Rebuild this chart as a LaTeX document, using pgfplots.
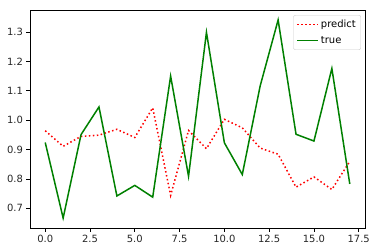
\documentclass[border=0pt]{standalone}
\usepackage{pgfplots}
\pgfplotsset{compat=1.18}
\usepackage{fontspec}
\setmainfont{DejaVu Sans}
\definecolor{mplgreen}{RGB}{0,128,0}
\definecolor{mplred}{RGB}{255,0,0}
\begin{document}
\begin{tikzpicture}[x=1bp,y=1bp]
\begin{axis}[
  scale only axis,
  width=335bp, height=218bp,
  xmin=-0.85, xmax=17.85,
  ymin=0.633, ymax=1.375,
  xtick={0,2.5,...,17.5},
  ytick={0.7,0.8,...,1.3},
  xticklabel style={/pgf/number format/.cd,fixed,fixed zerofill,precision=1},
  yticklabel style={/pgf/number format/.cd,fixed,fixed zerofill,precision=1},
  /pgf/number format/assume math mode=true,
  tick align=outside,
  tick pos=left,
  major tick length=3.5bp,
  every tick/.style={black, line width=0.8bp},
  axis line style={line width=0.8bp},
  ticklabel style={font=\fontsize{10}{12}\selectfont, text=black!85},
  legend style={at={(0.988,0.977)}, anchor=north east, draw=black!20, rounded corners=2bp,
    font=\fontsize{10}{12}\selectfont, row sep=3bp, inner xsep=3bp, inner ysep=3bp},
  legend cell align=left,
  legend image code/.code={\draw[#1] (0bp,0bp) -- (21bp,0bp);},
]
\addplot[mplred, dash pattern=on 1.5bp off 2.5bp, line width=1.5bp] coordinates {
(0,0.964) (1,0.911) (2,0.945) (3,0.949) (4,0.969) (5,0.941) (6,1.042) (7,0.744)
(8,0.965) (9,0.903) (10,1.003) (11,0.974) (12,0.905) (13,0.884) (14,0.772)
(15,0.807) (16,0.764) (17,0.860)};
\addlegendentry{predict}
\addplot[mplgreen, line width=1.5bp] coordinates {
(0,0.924) (1,0.667) (2,0.951) (3,1.045) (4,0.742) (5,0.778) (6,0.738) (7,1.150)
(8,0.809) (9,1.299) (10,0.923) (11,0.815) (12,1.117) (13,1.341) (14,0.952)
(15,0.929) (16,1.176) (17,0.783)};
\addlegendentry{true}
\end{axis}
\path ([xshift=-30bp,yshift=-24bp]current axis.south west) rectangle ([xshift=12bp,yshift=10bp]current axis.north east);
\end{tikzpicture}
\end{document}
